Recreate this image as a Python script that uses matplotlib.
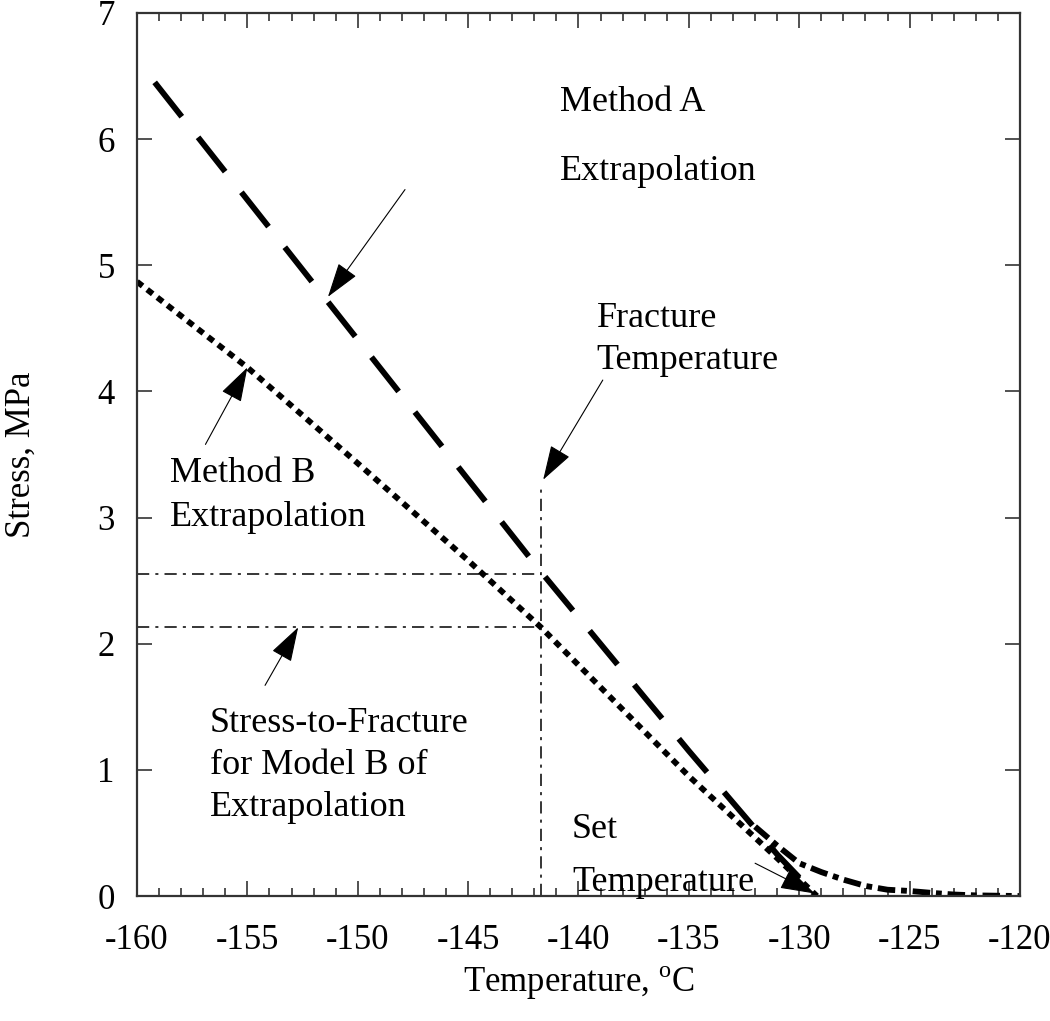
import matplotlib
matplotlib.use("Agg")
import matplotlib.pyplot as plt

plt.rcParams['font.family'] = ['Liberation Serif', 'DejaVu Serif']
plt.rcParams['mathtext.fontset'] = 'custom'
plt.rcParams['mathtext.rm'] = 'Liberation Serif'

# Method A extrapolation (long dashes)
temp_a = [-159.2, -150, -141.7, -135, -131, -129.2]
stress_a = [6.45, 4.41, 2.57, 1.15, 0.33, 0.0]

# Method B extrapolation (dots)
temp_b = [-160, -155, -150, -145, -141.7, -135, -131, -129.2]
stress_b = [4.87, 4.19, 3.43, 2.66, 2.13, 0.95, 0.30, 0.0]

# measured tail
temp_m = [-132, -131, -130, -129, -128, -127, -126, -125, -124, -123, -122, -120]
stress_m = [0.55, 0.40, 0.26, 0.19, 0.13, 0.08, 0.05, 0.04, 0.025, 0.012, 0.005, 0.0]

fracture_temp = -141.7
fracture_top = 3.25
stress_frac_a = 2.55
stress_frac_b = 2.13

x_ticks = [-160, -155, -150, -145, -140, -135, -130, -125, -120]
y_ticks = [0, 1, 2, 3, 4, 5, 6, 7]

# (text, text pos, arrow tail, arrow head, linespacing)
notes = [
    ("Method A\nExtrapolation", (-140.84, 6.42), (-147.86, 5.60), (-151.35, 4.75), 2.45),
    ("Fracture\nTemperature", (-139.17, 4.71), (-138.9, 4.09), (-141.6, 3.30), 1.37),
    ("Method B\nExtrapolation", (-158.5, 3.48), (-156.9, 3.58), (-155.0, 4.19), 1.45),
    ("Stress-to-Fracture\nfor Model B of\nExtrapolation", (-156.7, 1.50), (-154.2, 1.67), (-152.7, 2.13), 1.37),
    ("Set\nTemperature", (-140.3, 0.66), (-132.0, 0.26), (-129.3, 0.02), 1.8),
]

fig = plt.figure(figsize=(10.5, 10.21), dpi=100)
ax = fig.add_axes([0.1305, 0.1224, 0.8409, 0.8649])

ax.plot(temp_a, stress_a, color='k', lw=4.2, dashes=(7.5, 4.5))
ax.plot(temp_b, stress_b, color='k', lw=4.2, dashes=(1.2, 1.0))
ax.plot(temp_m, stress_m, color='k', lw=4.2, dashes=(3.0, 1.0, 1.0, 1.0))

dd = (0, (8, 4, 2, 4))
ax.plot([fracture_temp, fracture_temp], [0, fracture_top], color='k', lw=1.1, linestyle=dd)
ax.plot([-160, fracture_temp], [stress_frac_a, stress_frac_a], color='k', lw=1.1, linestyle=dd)
ax.plot([-160, fracture_temp], [stress_frac_b, stress_frac_b], color='k', lw=1.1, linestyle=dd)

for txt, tpos, tail, head, ls in notes:
    ax.text(tpos[0], tpos[1], txt, fontsize=26, ha='left', va='top', linespacing=ls)
    ax.annotate("", xy=head, xytext=tail,
                arrowprops=dict(arrowstyle='-|>,head_length=1.1,head_width=0.35',
                                mutation_scale=20, lw=0.8, color='k',
                                shrinkA=0, shrinkB=0))

ax.set_xlim(-160, -120)
ax.set_ylim(0, 7)
ax.set_xticks(x_ticks)
ax.set_xticklabels([str(v) for v in x_ticks])
ax.set_yticks(y_ticks)
ax.set_xticks(range(-160, -119), minor=True)
ax.tick_params(which='both', direction='in', top=True, right=True, color='#333333', width=1.2)
ax.tick_params(which='major', length=11, labelsize=25)
ax.tick_params(which='minor', length=6)
ax.tick_params(axis='x', pad=20)
ax.tick_params(axis='y', pad=16)
for s in ax.spines.values():
    s.set_linewidth(1.6)
    s.set_color('#333333')

ax.set_xlabel(r"Temperature, $^{\rm o}$C", fontsize=25, labelpad=5)
ax.set_ylabel("Stress, MPa", fontsize=25, labelpad=43)

fig.savefig("out.png", dpi=100)
